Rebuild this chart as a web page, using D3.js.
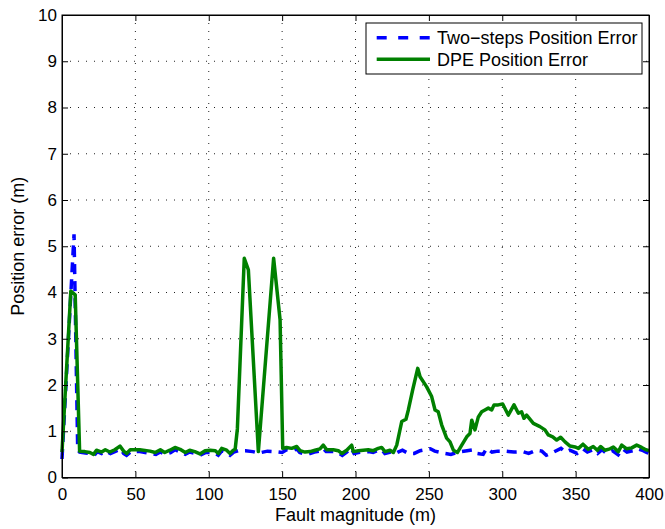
<!DOCTYPE html>
<html>
<head>
<meta charset="utf-8">
<script src="https://cdnjs.cloudflare.com/ajax/libs/d3/7.8.5/d3.min.js"></script>
<style>
	body { margin: 0; background: #fff; }
	svg text { font-family: "Liberation Sans", Arial, Helvetica, sans-serif; fill: #000; }
</style>
</head>
<body>
<svg id="chart" width="665" height="529"></svg>
<script>
/* ----------------------------------------------------- */
/* ------------------------ DATA ----------------------- */
/* ----------------------------------------------------- */

let xTicks = [0, 50, 100, 150, 200, 250, 300, 350, 400];
let yTicks = [0, 1, 2, 3, 4, 5, 6, 7, 8, 9, 10];

let seriesNames = ["Two\u2212steps Position Error", "DPE Position Error"];

// Two-steps Position Error (blue, dashed)
let twoStepsX = [0, 8.2, 10.7, 12, 16, 19, 22, 24, 27, 30, 33, 36, 40, 42, 44, 47, 53, 60, 64, 67,
	70, 74, 77, 80, 84, 87, 91, 94, 98, 101, 104.5, 106.5, 109, 112, 114.5, 117, 120, 125, 130, 134,
	140, 145, 150, 153, 157, 160, 162, 166, 169, 172, 176, 178, 180, 185, 188, 191, 194, 197, 199, 202,
	205, 209, 212, 215, 218, 220, 224, 226, 229, 232, 236, 240, 244, 251, 254, 261, 265, 270, 276, 280,
	283, 287, 289.4, 293, 297, 302, 308, 314, 318, 323, 327, 330, 335, 340, 343, 346, 351, 355, 358, 362,
	365, 368, 371, 375, 379, 382, 385, 389, 392, 396, 398, 400];
let twoStepsY = [0.40, 5.26, 0.60, 0.55, 0.53, 0.52, 0.48, 0.56, 0.52, 0.57, 0.52, 0.56, 0.62, 0.52, 0.48, 0.56, 0.56, 0.52, 0.50, 0.55,
	0.50, 0.54, 0.60, 0.56, 0.50, 0.55, 0.52, 0.48, 0.54, 0.54, 0.52, 0.48, 0.58, 0.54, 0.48, 0.55, 0.58, 0.58, 0.56, 0.53,
	0.57, 0.56, 0.54, 0.60, 0.58, 0.62, 0.54, 0.50, 0.52, 0.55, 0.57, 0.63, 0.56, 0.56, 0.54, 0.48, 0.55, 0.64, 0.52, 0.54,
	0.55, 0.56, 0.54, 0.58, 0.60, 0.52, 0.55, 0.50, 0.55, 0.59, 0.52, 0.52, 0.58, 0.62, 0.57, 0.52, 0.50, 0.55, 0.58, 0.60,
	0.52, 0.50, 0.63, 0.55, 0.57, 0.57, 0.55, 0.56, 0.52, 0.59, 0.57, 0.48, 0.55, 0.63, 0.55, 0.59, 0.52, 0.62, 0.55, 0.60,
	0.52, 0.60, 0.52, 0.58, 0.49, 0.62, 0.55, 0.58, 0.62, 0.58, 0.55, 0.52];

// DPE Position Error (green, solid)
let dpeX = [0, 6, 9, 12, 15.5, 19, 21.5, 23.5, 27, 29.5, 32.5, 36, 39.5, 42, 44, 46.5, 53, 60, 63.5, 67,
	70, 73.5, 77, 80.5, 84, 87, 90.5, 94, 97.5, 101, 104.5, 106.5, 108.8, 112.2, 114.5, 116.7, 118, 119.5, 124.2, 127,
	133.8, 144.2, 148.6, 150.4, 153, 156.5, 160, 162.2, 165.6, 169, 172.4, 175.8, 178, 180.4, 184.9, 188.3, 190.6, 194, 197.4, 198.5,
	201.9, 205.3, 208.7, 212.1, 215.5, 217.8, 220.1, 223.5, 225.8, 228.1, 230.3, 231.5, 234.4, 236, 239, 242.4, 244, 248.5, 251.9, 254.2,
	256.4, 258.7, 262.1, 264.4, 266.7, 269.4, 272.4, 275.8, 278, 279.2, 281.4, 283.7, 286, 288.2, 290.5, 292.8, 294.4, 297.3, 300.3, 304.1,
	308, 311, 313.2, 314.8, 316.6, 321.2, 325.7, 329.1, 331.4, 334.4, 337.1, 339.8, 342.8, 346.2, 349.6, 351.9, 355, 358.6, 362, 364.8,
	367.1, 370, 373.4, 375.7, 379.1, 381.4, 384.8, 388.2, 391.6, 395, 397.3, 400];
let dpeY = [0.55, 4.03, 3.95, 0.57, 0.56, 0.54, 0.50, 0.59, 0.55, 0.60, 0.55, 0.60, 0.68, 0.57, 0.52, 0.60, 0.60, 0.57, 0.54, 0.60,
	0.54, 0.59, 0.65, 0.61, 0.54, 0.59, 0.56, 0.51, 0.58, 0.59, 0.58, 0.52, 0.63, 0.59, 0.52, 0.59, 0.61, 1.05, 4.74, 4.49,
	0.56, 4.74, 3.41, 0.63, 0.65, 0.63, 0.67, 0.58, 0.55, 0.56, 0.59, 0.62, 0.70, 0.60, 0.60, 0.58, 0.52, 0.59, 0.70, 0.56,
	0.58, 0.59, 0.60, 0.58, 0.63, 0.65, 0.56, 0.59, 0.54, 0.70, 1.03, 1.21, 1.26, 1.46, 1.90, 2.36, 2.18, 1.96, 1.75, 1.46,
	1.42, 1.14, 0.85, 0.77, 0.59, 0.54, 0.70, 0.88, 0.95, 1.24, 1.03, 1.31, 1.42, 1.46, 1.50, 1.46, 1.57, 1.57, 1.59, 1.35,
	1.57, 1.39, 1.42, 1.28, 1.35, 1.17, 1.10, 1.03, 0.92, 0.88, 0.81, 0.87, 0.77, 0.68, 0.66, 0.63, 0.72, 0.61, 0.67, 0.59,
	0.67, 0.59, 0.62, 0.66, 0.56, 0.70, 0.62, 0.64, 0.70, 0.65, 0.61, 0.58];

/* ----------------------------------------------------- */
/* ------------------------ SVG ------------------------ */
/* ----------------------------------------------------- */

let svg = d3.select("#chart");
let margin = { left: 62, right: 16, top: 15, bottom: 51.5 };
let width = 665 - margin.left - margin.right;
let height = 529 - margin.top - margin.bottom;

let x = d3.scaleLinear().domain([0, 400]).range([0, width]);
let y = d3.scaleLinear().domain([0, 10]).range([height, 0]);

let g = svg.append("g")
	.attr("transform", "translate(" + margin.left + "," + margin.top + ")");

// dotted grid
g.append("g")
	.selectAll("line")
	.data(xTicks.slice(1, -1))
	.enter().append("line")
	.attr("x1", d => x(d)).attr("x2", d => x(d))
	.attr("y1", 0).attr("y2", height)
	.attr("stroke", "#222").attr("stroke-width", 1)
	.attr("stroke-dasharray", "1,7");

g.append("g")
	.selectAll("line")
	.data(yTicks.slice(1, -1))
	.enter().append("line")
	.attr("x1", 0).attr("x2", width)
	.attr("y1", d => y(d)).attr("y2", d => y(d))
	.attr("stroke", "#222").attr("stroke-width", 1)
	.attr("stroke-dasharray", "1,7");

// lines
let line = d3.line()
	.x(d => x(d[0]))
	.y(d => y(d[1]));

let twoSteps = twoStepsX.map((v, i) => [v, twoStepsY[i]]);
let dpe = dpeX.map((v, i) => [v, dpeY[i]]);

g.append("path")
	.datum(twoSteps)
	.attr("d", line)
	.attr("fill", "none")
	.attr("stroke", "#0000ff")
	.attr("stroke-width", 3.5)
	.attr("stroke-dasharray", "10,7");

g.append("path")
	.datum(dpe)
	.attr("d", line)
	.attr("fill", "none")
	.attr("stroke", "#008000")
	.attr("stroke-width", 3.5)
	.attr("stroke-linejoin", "round");

// axes, ticks pointing inward on all four sides
let tickFont = "17px";

g.append("g")
	.attr("transform", "translate(0," + height + ")")
	.call(d3.axisBottom(x).tickValues(xTicks).tickSizeInner(-6).tickSizeOuter(0).tickPadding(10))
	.call(a => a.selectAll("text").style("font-size", tickFont));

g.append("g")
	.call(d3.axisLeft(y).tickValues(yTicks).tickSizeInner(-6).tickSizeOuter(0).tickPadding(5))
	.call(a => a.selectAll("text").style("font-size", tickFont));

g.append("g")
	.call(d3.axisTop(x).tickValues(xTicks).tickSizeInner(-6).tickSizeOuter(0).tickFormat(""));

g.append("g")
	.attr("transform", "translate(" + width + ",0)")
	.call(d3.axisRight(y).tickValues(yTicks).tickSizeInner(-6).tickSizeOuter(0).tickFormat(""));

g.selectAll(".domain").attr("stroke", "#000");
g.selectAll(".tick line").attr("stroke", "#000");

g.append("rect")
	.attr("width", width).attr("height", height)
	.attr("fill", "none").attr("stroke", "#000").attr("stroke-width", 1);

// axis labels
svg.append("text")
	.attr("x", margin.left + width / 2)
	.attr("y", 521)
	.attr("text-anchor", "middle")
	.style("font-size", "18px")
	.text("Fault magnitude (m)");

svg.append("text")
	.attr("transform", "translate(24," + (margin.top + height / 2) + ") rotate(-90)")
	.attr("text-anchor", "middle")
	.style("font-size", "18px")
	.text("Position error (m)");

/* ----------------------------------------------------- */
/* ----------------------- LEGEND ---------------------- */
/* ----------------------------------------------------- */

let legend = svg.append("g").attr("transform", "translate(366,23)");

legend.append("rect")
	.attr("width", 276).attr("height", 51)
	.attr("fill", "#fff").attr("stroke", "#000").attr("stroke-width", 1);

let legendStyles = [
	{ color: "#0000ff", dash: "10,11.5" },
	{ color: "#008000", dash: null }
];

seriesNames.forEach((name, i) => {
	let row = legend.append("g").attr("transform", "translate(0," + (14.7 + i * 21.5) + ")");
	row.append("line")
		.attr("x1", 10.7).attr("x2", 64)
		.attr("y1", 0).attr("y2", 0)
		.attr("stroke", legendStyles[i].color)
		.attr("stroke-width", 3.5)
		.attr("stroke-dasharray", legendStyles[i].dash);
	row.append("text")
		.attr("x", 71).attr("y", 6.3)
		.style("font-size", "18px")
		.text(name);
});
</script>
</body>
</html>
